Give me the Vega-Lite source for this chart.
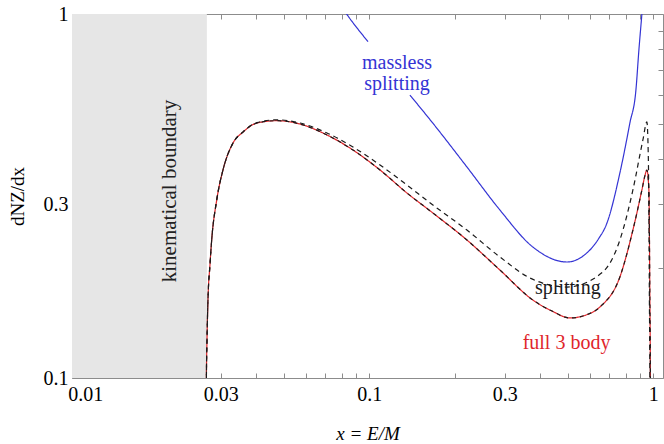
{
  "$schema": "https://vega.github.io/schema/vega-lite/v6.json",
  "width": 591,
  "height": 364,
  "autosize": "none",
  "padding": {"left": 72, "top": 14, "right": 1, "bottom": 66},
  "config": {
    "view": {"stroke": "#8c8c8c", "strokeWidth": 1},
    "font": "Liberation Serif",
    "axis": {
      "domain": false,
      "grid": false,
      "ticks": true,
      "tickColor": "#8c8c8c",
      "tickWidth": 1,
      "tickSize": 5,
      "offset": -5,
      "labelFont": "Liberation Serif",
      "labelFontSize": 20,
      "labelColor": "#000000",
      "labelOverlap": false,
      "labelFlush": false,
      "titleFont": "Liberation Serif",
      "titleFontSize": 19,
      "titleFontWeight": "normal",
      "titleColor": "#000000",
      "zindex": 1
    }
  },
  "datasets": {
    "boundary": [{"x": 0.00898, "x2": 0.0268, "y": 0.1, "y2": 1}],
    "curves": [
      {"series": "full3", "x": 0.0266, "y": 0.05},
      {"series": "full3", "x": 0.0267, "y": 0.1},
      {"series": "full3", "x": 0.02683, "y": 0.1272},
      {"series": "full3", "x": 0.02704, "y": 0.1638},
      {"series": "full3", "x": 0.02748, "y": 0.2044},
      {"series": "full3", "x": 0.02787, "y": 0.2394},
      {"series": "full3", "x": 0.02903, "y": 0.3083},
      {"series": "full3", "x": 0.03054, "y": 0.3728},
      {"series": "full3", "x": 0.03312, "y": 0.4419},
      {"series": "full3", "x": 0.03592, "y": 0.4738},
      {"series": "full3", "x": 0.04023, "y": 0.5018},
      {"series": "full3", "x": 0.04732, "y": 0.5092},
      {"series": "full3", "x": 0.05702, "y": 0.4986},
      {"series": "full3", "x": 0.07098, "y": 0.4652},
      {"series": "full3", "x": 0.08762, "y": 0.423},
      {"series": "full3", "x": 0.1091, "y": 0.3728},
      {"series": "full3", "x": 0.1357, "y": 0.3223},
      {"series": "full3", "x": 0.1675, "y": 0.284},
      {"series": "full3", "x": 0.2207, "y": 0.2394},
      {"series": "full3", "x": 0.2884, "y": 0.198},
      {"series": "full3", "x": 0.3767, "y": 0.1638},
      {"series": "full3", "x": 0.44, "y": 0.1527},
      {"series": "full3", "x": 0.5086, "y": 0.1462},
      {"series": "full3", "x": 0.58, "y": 0.149},
      {"series": "full3", "x": 0.6486, "y": 0.1567},
      {"series": "full3", "x": 0.7628, "y": 0.1895},
      {"series": "full3", "x": 0.8477, "y": 0.255},
      {"series": "full3", "x": 0.9118, "y": 0.3285},
      {"series": "full3", "x": 0.934, "y": 0.359},
      {"series": "full3", "x": 0.9495, "y": 0.3728},
      {"series": "full3", "x": 0.965, "y": 0.3285},
      {"series": "full3", "x": 0.9728, "y": 0.1638},
      {"series": "full3", "x": 0.9767, "y": 0.1},
      {"series": "full3", "x": 0.977, "y": 0.05},
      {"series": "full3d", "x": 0.0266, "y": 0.05},
      {"series": "full3d", "x": 0.0267, "y": 0.1},
      {"series": "full3d", "x": 0.02683, "y": 0.1272},
      {"series": "full3d", "x": 0.02704, "y": 0.1638},
      {"series": "full3d", "x": 0.02748, "y": 0.2044},
      {"series": "full3d", "x": 0.02787, "y": 0.2394},
      {"series": "full3d", "x": 0.02903, "y": 0.3083},
      {"series": "full3d", "x": 0.03054, "y": 0.3728},
      {"series": "full3d", "x": 0.03312, "y": 0.4419},
      {"series": "full3d", "x": 0.03592, "y": 0.4738},
      {"series": "full3d", "x": 0.04023, "y": 0.5018},
      {"series": "full3d", "x": 0.04732, "y": 0.5092},
      {"series": "full3d", "x": 0.05702, "y": 0.4986},
      {"series": "full3d", "x": 0.07098, "y": 0.4652},
      {"series": "full3d", "x": 0.08762, "y": 0.423},
      {"series": "full3d", "x": 0.1091, "y": 0.3728},
      {"series": "full3d", "x": 0.1357, "y": 0.3223},
      {"series": "full3d", "x": 0.1675, "y": 0.284},
      {"series": "full3d", "x": 0.2207, "y": 0.2394},
      {"series": "full3d", "x": 0.2884, "y": 0.198},
      {"series": "full3d", "x": 0.3767, "y": 0.1638},
      {"series": "full3d", "x": 0.44, "y": 0.1527},
      {"series": "full3d", "x": 0.5086, "y": 0.1462},
      {"series": "full3d", "x": 0.58, "y": 0.149},
      {"series": "full3d", "x": 0.6486, "y": 0.1567},
      {"series": "full3d", "x": 0.7628, "y": 0.1895},
      {"series": "full3d", "x": 0.8477, "y": 0.255},
      {"series": "full3d", "x": 0.9118, "y": 0.3285},
      {"series": "full3d", "x": 0.934, "y": 0.359},
      {"series": "full3d", "x": 0.9495, "y": 0.3728},
      {"series": "full3d", "x": 0.965, "y": 0.3285},
      {"series": "full3d", "x": 0.9728, "y": 0.1638},
      {"series": "full3d", "x": 0.9767, "y": 0.1},
      {"series": "full3d", "x": 0.977, "y": 0.05},
      {"series": "splitting", "x": 0.0266, "y": 0.05},
      {"series": "splitting", "x": 0.0267, "y": 0.1},
      {"series": "splitting", "x": 0.02683, "y": 0.1272},
      {"series": "splitting", "x": 0.02704, "y": 0.1638},
      {"series": "splitting", "x": 0.02748, "y": 0.2044},
      {"series": "splitting", "x": 0.02787, "y": 0.2394},
      {"series": "splitting", "x": 0.02903, "y": 0.3083},
      {"series": "splitting", "x": 0.03054, "y": 0.3728},
      {"series": "splitting", "x": 0.03312, "y": 0.4419},
      {"series": "splitting", "x": 0.03592, "y": 0.4745},
      {"series": "splitting", "x": 0.04023, "y": 0.503},
      {"series": "splitting", "x": 0.04732, "y": 0.512},
      {"series": "splitting", "x": 0.05702, "y": 0.5018},
      {"series": "splitting", "x": 0.07098, "y": 0.471},
      {"series": "splitting", "x": 0.08762, "y": 0.4311},
      {"series": "splitting", "x": 0.1091, "y": 0.3847},
      {"series": "splitting", "x": 0.1357, "y": 0.339},
      {"series": "splitting", "x": 0.1675, "y": 0.2987},
      {"series": "splitting", "x": 0.2207, "y": 0.255},
      {"series": "splitting", "x": 0.2884, "y": 0.215},
      {"series": "splitting", "x": 0.3677, "y": 0.1883},
      {"series": "splitting", "x": 0.4964, "y": 0.1778},
      {"series": "splitting", "x": 0.6645, "y": 0.1956},
      {"series": "splitting", "x": 0.7628, "y": 0.2394},
      {"series": "splitting", "x": 0.8477, "y": 0.3285},
      {"series": "splitting", "x": 0.9192, "y": 0.4507},
      {"series": "splitting", "x": 0.9495, "y": 0.5051},
      {"series": "splitting", "x": 0.961, "y": 0.397},
      {"series": "splitting", "x": 0.969, "y": 0.1638},
      {"series": "splitting", "x": 0.9725, "y": 0.1},
      {"series": "splitting", "x": 0.973, "y": 0.05},
      {"series": "massless", "x": 0.0791, "y": 1.059},
      {"series": "massless", "x": 0.0832, "y": 1.0},
      {"series": "massless", "x": 0.099, "y": 0.8393},
      {"series": "massless", "x": 0.118, "y": null},
      {"series": "massless", "x": 0.139, "y": 0.599},
      {"series": "massless", "x": 0.1675, "y": 0.5011},
      {"series": "massless", "x": 0.2207, "y": 0.38},
      {"series": "massless", "x": 0.2884, "y": 0.2894},
      {"series": "massless", "x": 0.3767, "y": 0.229},
      {"series": "massless", "x": 0.4964, "y": 0.2083},
      {"series": "massless", "x": 0.5838, "y": 0.2206},
      {"series": "massless", "x": 0.64, "y": 0.2405},
      {"series": "massless", "x": 0.687, "y": 0.2666},
      {"series": "massless", "x": 0.7628, "y": 0.3659},
      {"series": "massless", "x": 0.8272, "y": 0.5018},
      {"series": "massless", "x": 0.8687, "y": 0.6182},
      {"series": "massless", "x": 0.8899, "y": 0.796},
      {"series": "massless", "x": 0.9118, "y": 1.0},
      {"series": "massless", "x": 0.925, "y": 1.15}
    ],
    "labels": [
      {"series": "massless", "text": "massless", "x": 0.1252, "y": 0.7336},
      {"series": "massless", "text": "splitting", "x": 0.1252, "y": 0.644},
      {"series": "splitting", "text": "splitting", "x": 0.5003, "y": 0.1768},
      {"series": "full3", "text": "full 3 body", "x": 0.495, "y": 0.1245}
    ],
    "region": [
      {"text": "kinematical boundary", "x": 0.01987, "y": 0.3264}
    ]
  },
  "layer": [
    {
      "data": {"name": "boundary"},
      "mark": {"type": "rect", "color": "#e6e6e6"},
      "encoding": {
        "x": {
          "field": "x", "type": "quantitative",
          "scale": {"type": "log", "domain": [0.00898, 1.082], "nice": false},
          "axis": {
            "orient": "bottom",
            "values": [0.01, 0.02, 0.03, 0.04, 0.05, 0.06, 0.07, 0.08, 0.09, 0.1, 0.2, 0.3, 0.4, 0.5, 0.6, 0.7, 0.8, 0.9, 1],
            "format": "~g",
            "labelExpr": "indexof([0.01, 0.03, 0.1, 0.3, 1], datum.value) >= 0 ? datum.label : ''",
            "labelFont": "Liberation Serif",
            "labelPadding": 6,
            "title": "x = E/M",
            "titleFontStyle": "italic",
            "titleBaseline": "middle",
            "titleY": 60
          }
        },
        "x2": {"field": "x2"},
        "y": {
          "field": "y", "type": "quantitative",
          "scale": {"type": "log", "domain": [0.1, 1], "nice": false},
          "axis": {
            "orient": "left",
            "values": [0.1, 0.2, 0.3, 0.4, 0.5, 0.6, 0.7, 0.8, 0.9, 1],
            "format": "~g",
            "labelExpr": "indexof([0.1, 0.3, 1], datum.value) >= 0 ? datum.label : ''",
            "labelFont": "Liberation Serif",
            "labelPadding": 4,
            "labelBaseline": "middle",
            "title": "dNZ/dx",
            "titleBaseline": "middle",
            "titleX": -60,
            "titleY": 182
          }
        },
        "y2": {"field": "y2"}
      }
    },
    {
      "data": {"name": "curves"},
      "mark": {"type": "line", "clip": true, "strokeWidth": 1.2, "interpolate": "monotone"},
      "encoding": {
        "x": {
          "field": "x", "type": "quantitative",
          "scale": {"type": "log", "domain": [0.00898, 1.082], "nice": false},
          "axis": {
            "orient": "top",
            "values": [0.01, 0.02, 0.03, 0.04, 0.05, 0.06, 0.07, 0.08, 0.09, 0.1, 0.2, 0.3, 0.4, 0.5, 0.6, 0.7, 0.8, 0.9, 1],
            "labels": false,
            "title": null
          }
        },
        "y": {
          "field": "y", "type": "quantitative",
          "scale": {"type": "log", "domain": [0.1, 1], "nice": false},
          "axis": {
            "orient": "right",
            "values": [0.1, 0.2, 0.3, 0.4, 0.5, 0.6, 0.7, 0.8, 0.9, 1],
            "labels": false,
            "title": null
          }
        },
        "color": {
          "field": "series", "type": "nominal",
          "scale": {"domain": ["massless", "full3", "full3d", "splitting"], "range": ["#3434d4", "#e0262b", "#1a1a1a", "#1a1a1a"]},
          "legend": null
        },
        "strokeDash": {
          "field": "series", "type": "nominal",
          "scale": {"domain": ["massless", "full3", "full3d", "splitting"], "range": [[1, 0], [1, 0], [4, 4], [5, 4]]},
          "legend": null
        },
        "opacity": {
          "field": "series", "type": "nominal",
          "scale": {"domain": ["massless", "full3", "full3d", "splitting"], "range": [1, 1, 0.55, 1]},
          "legend": null
        }
      }
    },
    {
      "data": {"name": "labels"},
      "mark": {"type": "text", "font": "Liberation Serif", "fontSize": 20, "align": "center", "baseline": "middle"},
      "encoding": {
        "x": {"field": "x", "type": "quantitative", "scale": {"type": "log", "domain": [0.00898, 1.082], "nice": false}, "axis": null},
        "y": {"field": "y", "type": "quantitative", "scale": {"type": "log", "domain": [0.1, 1], "nice": false}, "axis": null},
        "text": {"field": "text"},
        "color": {"field": "series", "type": "nominal", "legend": null}
      }
    },
    {
      "data": {"name": "region"},
      "mark": {"type": "text", "font": "Liberation Serif", "fontSize": 21, "align": "center", "baseline": "middle", "angle": 270, "color": "#222222"},
      "encoding": {
        "x": {"field": "x", "type": "quantitative", "scale": {"type": "log", "domain": [0.00898, 1.082], "nice": false}, "axis": null},
        "y": {"field": "y", "type": "quantitative", "scale": {"type": "log", "domain": [0.1, 1], "nice": false}, "axis": null},
        "text": {"field": "text"}
      }
    }
  ],
  "resolve": {"axis": {"x": "independent", "y": "independent"}}
}
